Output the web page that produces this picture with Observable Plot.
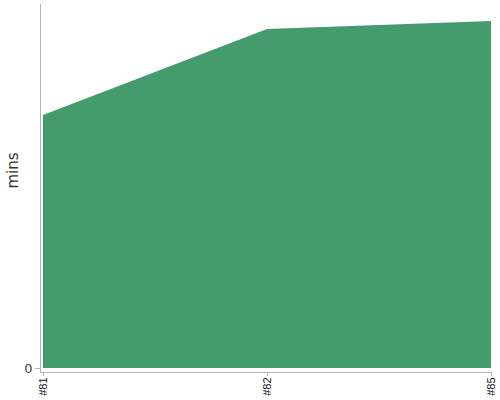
<!DOCTYPE html>
<html>
<head>
<meta charset="utf-8">
<script src="https://cdn.jsdelivr.net/npm/d3@7"></script>
<script src="https://cdn.jsdelivr.net/npm/@observablehq/plot@0.6"></script>
<style>
  html, body { margin: 0; padding: 0; background: #fff; }
  #chart svg { display: block; }
</style>
</head>
<body>
<div id="chart"></div>
<script>
const runs = ["#81", "#82", "#85"];
const mins = [69.5, 93.1, 95.3];
const yTicks = [0];

const data = runs.map((r, i) => ({run: r, mins: mins[i]}));

const chart = Plot.plot({
  width: 500,
  height: 400,
  marginLeft: 40,
  marginRight: 9,
  marginTop: 4,
  marginBottom: 28,
  style: {fontFamily: "Liberation Sans, Arial, sans-serif", fontSize: "11px", color: "#222", background: "#fff"},
  x: {type: "point", domain: runs, padding: 0, insetLeft: 3, insetRight: 0},
  y: {domain: [0, 100], insetBottom: 4},
  marks: [
    Plot.areaY(data, {x: "run", y: "mins", fill: "#449c6c"}),
    Plot.frame({anchor: "left", stroke: "#b3b3b3"}),
    Plot.frame({anchor: "bottom", stroke: "#b3b3b3"}),
    Plot.axisY({ticks: yTicks, tickSize: 5, stroke: "#b3b3b3", tickPadding: 3, fontSize: 13, label: null, fill: "#444", fontFamily: "DejaVu Sans, sans-serif"}),
    Plot.axisX({tickSize: 4, tickRotate: -90, stroke: "#b3b3b3", tickPadding: 1, fontSize: 11, label: null, fill: "#111"}),
    Plot.text(["mins"], {frameAnchor: "left", rotate: -90, dx: -27, fontSize: 15, fill: "#333", fontFamily: "DejaVu Sans, sans-serif"})
  ]
});
document.getElementById("chart").appendChild(chart);
</script>
</body>
</html>
